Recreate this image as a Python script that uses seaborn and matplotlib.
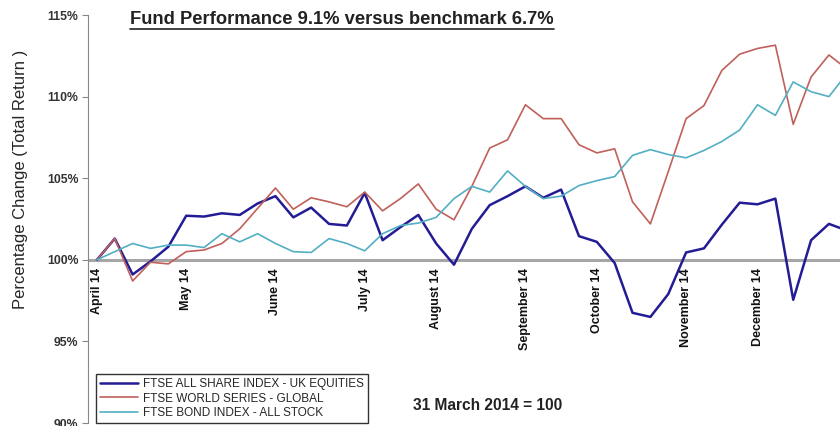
import numpy as np
import pandas as pd
import seaborn as sns
import matplotlib.pyplot as plt

# weekly index values, 31 March 2014 = 100
all_share = [100.0, 101.3, 99.1, 99.9, 100.8, 102.7, 102.65, 102.85, 102.75, 103.45,
             103.9, 102.6, 103.2, 102.2, 102.1, 104.1, 101.2, 102.0, 102.75, 101.0,
             99.7, 101.9, 103.35, 103.9, 104.5, 103.8, 104.3, 101.45, 101.1, 99.8,
             96.75, 96.5, 97.9, 100.45, 100.7, 102.15, 103.5, 103.4, 103.75, 97.55,
             101.2, 102.2, 101.8]
world = [100.0, 101.3, 98.7, 99.85, 99.75, 100.5, 100.6, 101.0, 101.9, 103.15,
         104.4, 103.1, 103.8, 103.55, 103.25, 104.15, 103.0, 103.75, 104.65, 103.1,
         102.45, 104.5, 106.85, 107.35, 109.5, 108.65, 108.65, 107.05, 106.55, 106.8,
         103.55, 102.2, 105.4, 108.65, 109.45, 111.6, 112.6, 112.95, 113.15, 108.3,
         111.2, 112.55, 111.7]
bonds = [100.0, 100.5, 101.0, 100.7, 100.9, 100.9, 100.75, 101.6, 101.1, 101.6,
         101.0, 100.5, 100.45, 101.3, 101.0, 100.55, 101.6, 102.1, 102.25, 102.6,
         103.75, 104.5, 104.15, 105.45, 104.5, 103.75, 103.9, 104.55, 104.85, 105.1,
         106.4, 106.75, 106.45, 106.25, 106.7, 107.25, 107.95, 109.5, 108.85, 110.9,
         110.3, 110.0, 111.4]

series_names = ["FTSE ALL SHARE INDEX - UK EQUITIES",
                "FTSE WORLD SERIES - GLOBAL",
                "FTSE BOND INDEX - ALL STOCK"]
colors = ["#231C94", "#C0605A", "#52AFC4"]
widths = [1.8, 1.2, 1.2]

month_labels = ["April 14", "May 14", "June 14", "July 14", "August 14",
                "September 14", "October 14", "November 14", "December 14"]
month_pos = [0, 5, 10, 15, 19, 24, 28, 33, 37]

week = np.arange(len(all_share))
df = pd.DataFrame({
    "week": np.tile(week, 3),
    "value": all_share + world + bonds,
    "series": np.repeat(series_names, len(week)),
})

sns.set_style("white")
plt.rcParams["font.family"] = ["Liberation Sans", "DejaVu Sans"]

fig = plt.figure(figsize=(8.4, 4.26), dpi=100)
ax = fig.add_axes([88 / 840, 3 / 426, 752 / 840, 408 / 426])

sns.lineplot(data=df, x="week", y="value", hue="series", hue_order=series_names,
             palette=colors, ax=ax, legend=False)
for line, lw in zip(ax.lines, widths):
    line.set_linewidth(lw)

ax.axhline(100, color="#a6a6a6", lw=2.2, zorder=0)

ax.set_xlim(-0.5, 41.62)
ax.set_ylim(90, 115)
ax.set_yticks([90, 95, 100, 105, 110, 115])
ax.set_yticklabels(["90%", "95%", "100%", "105%", "110%", "115%"],
                   fontsize=8.8, fontweight="bold", color="#333333")
ax.set_xticks([])
ax.set_xlabel("")
ax.set_ylabel("Percentage Change (Total Return )", fontsize=12)
ax.yaxis.set_label_coords((28 - 88) / 752, 0.598)
ax.tick_params(axis="y", left=True, length=4, color="#888888", pad=3)
for s in ["top", "right", "bottom"]:
    ax.spines[s].set_visible(False)
ax.spines["left"].set_color("#888888")

for pos, lab in zip(month_pos, month_labels):
    ax.text(pos, 99.5, lab, rotation=90, ha="center", va="top",
            fontsize=9, fontweight="bold", color="#111111")

handles = [plt.Line2D([], [], color=c, lw=w) for c, w in zip(colors, widths)]
leg = ax.legend(handles, series_names, loc="lower left", bbox_to_anchor=(0.0106, 0.0),
                borderaxespad=0, fontsize=8.5, frameon=True, fancybox=False,
                handlelength=3.2, handletextpad=0.4, labelspacing=0.2,
                borderpad=0.35)
leg.get_frame().set_edgecolor("black")
leg.get_frame().set_linewidth(1.0)

ax.text(0.432, 0.042, "31 March 2014 = 100", transform=ax.transAxes,
        fontsize=11.2, fontweight="bold", color="#222222", ha="left", va="center")

title = fig.text(342 / 840, 1 - 20 / 426, "Fund Performance 9.1% versus benchmark 6.7%",
                 ha="center", va="center", fontsize=13.2, fontweight="bold", color="#222222")
fig.canvas.draw()
bb = title.get_window_extent().transformed(fig.transFigure.inverted())
fig.add_artist(plt.Line2D([bb.x0, bb.x1], [bb.y0 - 0.002, bb.y0 - 0.002],
                          transform=fig.transFigure, color="#222222", lw=1.2))

fig.savefig("out.png", dpi=100)
